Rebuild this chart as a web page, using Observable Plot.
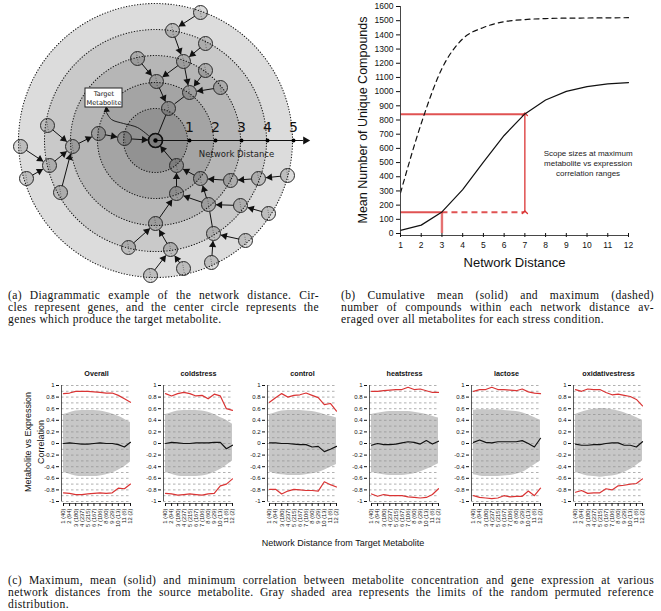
<!DOCTYPE html>
<html>
<head>
<meta charset="utf-8">
<script src="https://cdn.jsdelivr.net/npm/d3@7"></script>
<script src="https://cdn.jsdelivr.net/npm/@observablehq/plot@0.6"></script>
<style>
  body { margin: 0; background: #fff; }
  #root { position: relative; width: 661px; height: 611px; overflow: hidden; font-family: "Liberation Sans", Arial, sans-serif; color: #111; }
  .cap { position: absolute; font-family: "Liberation Serif", "DejaVu Serif", serif; font-size: 11.6px; letter-spacing: 0.35px; line-height: 12px; color: #111; }
  .cap div { text-align: justify; text-align-last: justify; }
  .cap div.last { text-align-last: left; }
  .lbl { position: absolute; font-family: "Liberation Sans", Arial, sans-serif; color: #111; text-align: center; }
</style>
</head>
<body>
<div id="root"></div>
<script>
// ---------------- Panel (a): network distance diagram ----------------
const ringRadii = [137, 111, 85, 58, 32];
const ringFills = ["#dcdcdc", "#c9c9c9", "#b6b6b6", "#a4a4a4", "#929292"];
const distanceTicks = [34, 60, 86, 112, 138];
const distanceTickLabels = ["1", "2", "3", "4", "5"];
const nodeNames = ["T0","A","B","C","D","E","F","G","H","I","J","K","L","M","N","O","P","Q","R","S","T","U","V","W","X","Y","Z","AA","AB","AC","AD","AE","AF","AG","AH","AI"];
const nodeX = [0, 13, 1, 34, 28, 17, 45, -18, 50, 50, 65, -31, -57, -83, -106, -135, -129, -108, -95, 21, 21, 0, -27, 15, -5, 28, 45, 75, 103, 132, 53, 85, 113, 58, 90, 56];
const nodeY = [0, -32, -59, -48, -79, -110, -128, -82, -97, -70, -53, -2, -7, 6, 25, 6, 38, -15, 52, 25, 53, 83, 107, 109, 135, 128, 38, 40, 38, 35, 64, 65, 73, 93, 100, 122];
const edgeFrom = ["A","B","G","D","D","E","F","H","I","J","C","K","L","M","Q","N","O","P","R","S","T","U","V","W","X","Y","Z","AA","AB","AC","AD","AD","AE","AF","AG","AH","AI"];
const edgeTo   = ["T0","A","B","B","C","D","E","D","C","C","A","T0","K","L","M","M","N","N","M","T0","S","T","U","U","W","W","S","Z","AA","AB","T","Z","AD","AE","AD","AG","AG"];
const edgeHead = [false,true,true,true,true,true,true,true,true,true,false,true,true,true,true,true,true,true,true,true,true,true,true,true,true,true,true,true,true,true,true,true,true,true,false,true,true];
const labelBox = [{x1: -70, x2: -33, y1: -52, y2: -33}];
const labelText = "Target\nMetabolite";
const connectorX = [-49, -44, -32, -18, -6];
const connectorY = [-28, -21, -17, -13, -4];

// ---------------- Panel (b): scope sizes ----------------
const networkDistance = [1, 2, 3, 4, 5, 6, 7, 8, 9, 10, 11, 12];
const meanCompounds = [22, 59, 152, 309, 503, 691, 843, 941, 1002, 1035, 1054, 1064];
const maxCompounds = [286, 775, 1163, 1372, 1452, 1493, 1508, 1515, 1518, 1519, 1520, 1521];
const compoundTicks = [0, 100, 200, 300, 400, 500, 600, 700, 800, 900, 1000, 1100, 1200, 1300, 1400, 1500, 1600];
const scopeDistance = [3, 7];
const scopeSize = [150, 840];
const scopeNote = "Scope sizes at maximum\nmetabolite vs expression\ncorrelation ranges";

// ---------------- Panel (c): correlation by distance ----------------
const distanceLabels = ["1 (40)", "2 (94)", "3 (180)", "4 (237)", "5 (215)", "6 (167)", "7 (106)", "8 (60)", "9 (29)", "10 (13)", "11 (6)", "12 (2)"];
const corrTicks = [-1, -0.8, -0.6, -0.4, -0.2, 0, 0.2, 0.4, 0.6, 0.8, 1];
const corrGrid = [-1, -0.9, -0.8, -0.7, -0.6, -0.5, -0.4, -0.3, -0.2, -0.1, 0, 0.1, 0.2, 0.3, 0.4, 0.5, 0.6, 0.7, 0.8, 0.9, 1];
const conditions = ["Overall", "coldstress", "control", "heatstress", "lactose", "oxidativestress"];

const overallMax  = [0.86, 0.87, 0.90, 0.90, 0.90, 0.89, 0.88, 0.87, 0.87, 0.83, 0.77, 0.71];
const overallMean = [0.00, 0.01, 0.00, -0.01, -0.01, 0.00, 0.01, 0.00, 0.00, -0.02, -0.06, 0.02];
const overallMin  = [-0.85, -0.86, -0.88, -0.88, -0.87, -0.86, -0.85, -0.86, -0.85, -0.77, -0.78, -0.70];
const overallHi   = [0.50, 0.53, 0.56, 0.57, 0.57, 0.57, 0.56, 0.54, 0.51, 0.47, 0.42, 0.36];
const overallLo   = [-0.50, -0.53, -0.56, -0.57, -0.57, -0.57, -0.56, -0.54, -0.51, -0.46, -0.40, -0.32];

const coldMax  = [0.86, 0.82, 0.86, 0.88, 0.86, 0.82, 0.83, 0.77, 0.85, 0.82, 0.60, 0.57];
const coldMean = [0.00, 0.02, 0.01, 0.00, 0.00, 0.01, 0.01, 0.01, 0.02, 0.02, -0.09, -0.03];
const coldMin  = [-0.86, -0.87, -0.89, -0.88, -0.87, -0.88, -0.89, -0.87, -0.86, -0.73, -0.70, -0.61];
const coldHi   = [0.50, 0.53, 0.56, 0.57, 0.57, 0.57, 0.56, 0.54, 0.50, 0.45, 0.40, 0.33];
const coldLo   = [-0.50, -0.53, -0.56, -0.57, -0.57, -0.57, -0.56, -0.54, -0.50, -0.45, -0.38, -0.30];

const controlMax  = [0.71, 0.79, 0.86, 0.80, 0.83, 0.84, 0.87, 0.83, 0.79, 0.67, 0.69, 0.56];
const controlMean = [0.01, 0.01, 0.00, 0.00, -0.01, -0.02, -0.02, -0.06, -0.05, -0.14, -0.10, -0.05];
const controlMin  = [-0.79, -0.79, -0.87, -0.82, -0.79, -0.80, -0.81, -0.81, -0.82, -0.66, -0.71, -0.75];
const controlHi   = [0.50, 0.53, 0.56, 0.57, 0.57, 0.57, 0.56, 0.55, 0.53, 0.50, 0.47, 0.44];
const controlLo   = [-0.49, -0.52, -0.54, -0.55, -0.55, -0.55, -0.54, -0.52, -0.50, -0.46, -0.41, -0.36];

const heatMax  = [0.90, 0.90, 0.91, 0.92, 0.93, 0.93, 0.97, 0.93, 0.94, 0.91, 0.88, 0.88];
const heatMean = [-0.03, 0.00, -0.02, -0.02, -0.01, 0.01, 0.03, 0.02, -0.01, 0.05, -0.01, 0.04];
const heatMin  = [-0.87, -0.91, -0.88, -0.90, -0.90, -0.90, -0.92, -0.93, -0.94, -0.93, -0.88, -0.78];
const heatHi   = [0.50, 0.52, 0.54, 0.55, 0.55, 0.55, 0.55, 0.54, 0.52, 0.50, 0.47, 0.44];
const heatLo   = [-0.50, -0.52, -0.54, -0.55, -0.55, -0.55, -0.54, -0.52, -0.49, -0.45, -0.40, -0.35];

const lactoseMax  = [0.90, 0.93, 0.93, 0.97, 0.93, 0.93, 0.92, 0.91, 0.94, 0.89, 0.87, 0.86];
const lactoseMean = [0.02, 0.06, 0.02, 0.01, 0.03, 0.03, 0.03, 0.03, 0.05, 0.00, -0.06, 0.09];
const lactoseMin  = [-0.90, -0.93, -0.94, -0.95, -0.94, -0.90, -0.92, -0.91, -0.91, -0.82, -0.90, -0.77];
const lactoseHi   = [0.57, 0.58, 0.58, 0.58, 0.58, 0.57, 0.56, 0.55, 0.53, 0.49, 0.45, 0.40];
const lactoseLo   = [-0.54, -0.56, -0.57, -0.57, -0.57, -0.56, -0.55, -0.53, -0.50, -0.44, -0.37, -0.30];

const oxidMax  = [0.93, 0.90, 0.94, 0.93, 0.93, 0.88, 0.84, 0.85, 0.83, 0.81, 0.76, 0.65];
const oxidMean = [-0.01, -0.03, -0.03, -0.02, -0.02, 0.00, 0.01, 0.01, -0.03, -0.03, -0.06, 0.03];
const oxidMin  = [-0.84, -0.81, -0.86, -0.85, -0.85, -0.78, -0.80, -0.73, -0.72, -0.70, -0.69, -0.61];
const oxidHi   = [0.50, 0.54, 0.57, 0.59, 0.60, 0.60, 0.58, 0.56, 0.53, 0.49, 0.45, 0.40];
const oxidLo   = [-0.50, -0.53, -0.56, -0.57, -0.58, -0.57, -0.56, -0.54, -0.50, -0.45, -0.38, -0.30];

const panelsC = [
  {max: overallMax, mean: overallMean, min: overallMin, hi: overallHi, lo: overallLo},
  {max: coldMax, mean: coldMean, min: coldMin, hi: coldHi, lo: coldLo},
  {max: controlMax, mean: controlMean, min: controlMin, hi: controlHi, lo: controlLo},
  {max: heatMax, mean: heatMean, min: heatMin, hi: heatHi, lo: heatLo},
  {max: lactoseMax, mean: lactoseMean, min: lactoseMin, hi: lactoseHi, lo: lactoseLo},
  {max: oxidMax, mean: oxidMean, min: oxidMin, hi: oxidHi, lo: oxidLo}
];

// ---------------- layout helpers ----------------
const root = document.getElementById("root");
function place(node, left, top) {
  node.style.position = "absolute";
  node.style.left = left + "px";
  node.style.top = top + "px";
  root.appendChild(node);
  return node;
}
function html(cls, left, top, width, inner, extra) {
  const d = document.createElement("div");
  d.className = cls;
  d.style.left = left + "px";
  d.style.top = top + "px";
  d.style.width = width + "px";
  if (extra) Object.assign(d.style, extra);
  d.innerHTML = inner;
  root.appendChild(d);
  return d;
}
const RED = "#da3434";

// ---------------- build panel (a) ----------------
const nodes = nodeNames.map((name, i) => ({name, x: nodeX[i], y: nodeY[i]}));
const byName = Object.fromEntries(nodes.map(d => [d.name, d]));
const edges = edgeFrom.map((f, i) => {
  const a = byName[f], b = byName[edgeTo[i]];
  const dx = b.x - a.x, dy = b.y - a.y, L = Math.hypot(dx, dy);
  return {x1: a.x, y1: a.y, x2: b.x, y2: b.y, head: edgeHead[i],
          hx: b.x - dx / L * 11.5, hy: b.y - dy / L * 11.5,
          angle: Math.atan2(dy, dx) * 180 / Math.PI + 90};
});
const connector = connectorX.map((x, i) => ({x, y: connectorY[i]}));

const plotA = Plot.plot({
  width: 320, height: 285, margin: 0,
  x: {domain: [-155, 165], range: [0, 320], axis: null},
  y: {domain: [-140, 145], range: [0, 285], axis: null},
  style: {background: "transparent", fontFamily: "DejaVu Sans, sans-serif", color: "#111"},
  marks: [
    ...ringRadii.map((r, i) => Plot.dot([r], {x: () => 0, y: () => 0, r, fill: ringFills[i], stroke: "#1a1a1a", strokeWidth: 1.1, strokeDasharray: "0.4,2.4", strokeLinecap: "round"})),
    Plot.arrow(edges, {x1: "x1", y1: "y1", x2: "x2", y2: "y2", headLength: 0, insetStart: 7, insetEnd: 8, stroke: "#111", strokeWidth: 1}),
    Plot.dot(edges.filter(d => d.head), {x: "hx", y: "hy", symbol: "triangle", r: 2.7, rotate: "angle", fill: "#111", stroke: "none"}),
    Plot.line(connector, {x: "x", y: "y", curve: "catmull-rom", stroke: "#111", strokeWidth: 0.9}),
    Plot.dot([labelBox[0]], {x: () => -49, y: () => -30.5, symbol: "triangle", r: 2.4, rotate: -8, fill: "#111", stroke: "none"}),
    Plot.arrow([0], {x1: () => 0, y1: () => 0, x2: () => 147, y2: () => 0, headLength: 0, stroke: "#111", strokeWidth: 1.1}),
    Plot.dot([0], {x: () => 150, y: () => 0, symbol: "triangle", r: 3, rotate: 90, fill: "#111", stroke: "none"}),
    Plot.dot(nodes, {x: "x", y: "y", r: 7, fill: "#000", fillOpacity: 0.14, stroke: "#2a2a2a", strokeWidth: 1}),
    Plot.link(nodes.slice(1), {x1: d => d.x - 1, y1: d => d.y - 6, x2: d => d.x + 1, y2: d => d.y + 6, stroke: "#222", strokeWidth: 0.8, strokeDasharray: "0.6,1.8"}),
    Plot.dot([0], {x: () => 0, y: () => 0, r: 7, fill: "none", stroke: "#111", strokeWidth: 1.6}),
    Plot.dot([0], {x: () => 0, y: () => 0, r: 2.2, fill: "#000"}),
    Plot.dot(distanceTicks, {x: d => d, y: () => 0, r: 2, fill: "#000"}),
    Plot.text(distanceTicks, {x: d => d, y: () => -13, text: (d, i) => distanceTickLabels[i], fontSize: 14, fill: "#111"}),
    Plot.text(["Network Distance"], {x: () => 81, y: () => 14, fontSize: 8.5, fill: "#222"}),
    Plot.rect(labelBox, {x1: "x1", x2: "x2", y1: "y1", y2: "y2", fill: "#fff", stroke: "#222", strokeWidth: 1}),
    Plot.text([labelText], {x: () => -51.5, y: () => -42.5, fontSize: 6.6, lineHeight: 1.3, fill: "#111"})
  ]
});
place(plotA, 0, 0);

// ---------------- build panel (b) ----------------
const plotB = Plot.plot({
  width: 331, height: 280, marginLeft: 70, marginRight: 33, marginTop: 6, marginBottom: 47,
  x: {domain: [1, 12]},
  y: {domain: [0, 1600]},
  style: {background: "transparent", fontFamily: "Liberation Sans, Arial, sans-serif", color: "#111"},
  marks: [
    Plot.ruleY([scopeSize[1]], {x1: () => 1, x2: () => scopeDistance[1], stroke: RED, strokeWidth: 2, strokeOpacity: 0.85}),
    Plot.ruleY([scopeSize[0]], {x1: () => 1, x2: () => scopeDistance[0], stroke: RED, strokeWidth: 2, strokeOpacity: 0.85}),
    Plot.ruleY([scopeSize[0]], {x1: () => scopeDistance[0], x2: () => scopeDistance[1], stroke: RED, strokeWidth: 2, strokeOpacity: 0.85, strokeDasharray: "6,4"}),
    Plot.ruleX([scopeDistance[0]], {y1: () => 0, y2: () => scopeSize[0], stroke: RED, strokeWidth: 2.4, strokeOpacity: 0.7}),
    Plot.link([0], {x1: () => scopeDistance[1], x2: () => scopeDistance[1], y1: () => scopeSize[0], y2: () => scopeSize[1], markerStart: "arrow", markerEnd: "arrow", stroke: RED, strokeWidth: 1.3}),
    Plot.line(networkDistance, {x: d => d, y: (d, i) => maxCompounds[i], curve: "monotone-x", stroke: "#111", strokeWidth: 1.2, strokeDasharray: "5,4"}),
    Plot.line(networkDistance, {x: d => d, y: (d, i) => meanCompounds[i], stroke: "#111", strokeWidth: 1.2}),
    Plot.ruleX([1], {y1: () => 0, y2: () => 1600, stroke: "#333", strokeWidth: 0.9}),
    Plot.ruleY([0], {x1: () => 1, x2: () => 12, dy: 2, stroke: "#333", strokeWidth: 0.9}),
    Plot.axisY(compoundTicks, {tickSize: 4, tickPadding: 3, fontSize: 8.5, label: null, tickFormat: d => String(d)}),
    Plot.axisX(networkDistance, {tickSize: 4, tickPadding: 4, fontSize: 8.5, label: null, tickFormat: d => String(d)}),
    Plot.text(["Mean Number of Unique Compounds"], {frameAnchor: "left", dx: -38, rotate: -90, textAnchor: "middle", fontSize: 12.5, fill: "#111"}),
    Plot.text(["Network Distance"], {frameAnchor: "bottom", dy: 33, fontSize: 13, fill: "#111"}),
    Plot.text([scopeNote], {x: () => 10.05, y: () => 495, fontSize: 8, lineHeight: 1.25, fill: "#222"})
  ]
});
place(plotB, 330, 0);

// ---------------- build panel (c) ----------------
const axisLeft = [61, 163, 267, 369, 471, 573];
panelsC.forEach((p, k) => {
  const rows = networkDistance.map((d, i) => ({d, hi: p.hi[i], lo: p.lo[i], max: p.max[i], mean: p.mean[i], min: p.min[i]}));
  const svg = Plot.plot({
    width: 104, height: 175, marginLeft: 32, marginRight: 2, marginTop: 25, marginBottom: 34,
    x: {domain: [1, 12], range: [34, 101]},
    y: {domain: [-1, 1], range: [141, 25]},
    style: {background: "transparent", fontFamily: "Liberation Sans, Arial, sans-serif", color: "#111", overflow: "visible"},
    marks: [
      Plot.areaY(rows, {x: "d", y1: "lo", y2: "hi", fill: "#c7c7c7", curve: "natural"}),
      Plot.ruleY(corrGrid, {stroke: "#8f8f8f", strokeWidth: 0.7, strokeDasharray: "2.5,2.5"}),
      Plot.lineY(rows, {x: "d", y: "max", stroke: RED, strokeWidth: 1.2}),
      Plot.lineY(rows, {x: "d", y: "min", stroke: RED, strokeWidth: 1.2}),
      Plot.lineY(rows, {x: "d", y: "mean", stroke: "#111", strokeWidth: 1.2}),
      Plot.ruleX([1], {dx: -2, y1: () => -1, y2: () => 1, stroke: "#333", strokeWidth: 0.8}),
      Plot.ruleY([-1], {x1: () => 1, x2: () => 12, dy: 2, stroke: "#333", strokeWidth: 0.8}),
      Plot.axisY(corrTicks, {tickSize: 3, tickPadding: 2, fontSize: 6, label: null, tickFormat: d => String(d), dx: -2}),
      Plot.axisX(networkDistance, {tickSize: 3, tickPadding: 2, fontSize: 5.8, label: null, tickRotate: -90, tickFormat: d => distanceLabels[d - 1], dy: 2}),
      Plot.text([conditions[k]], {frameAnchor: "top", dy: -15, fontWeight: "bold", fontSize: 7.2, fill: "#111"})
    ]
  });
  place(svg, axisLeft[k] - 32, 360);
});

// shared labels for panel (c)
html("lbl", -65, 429, 200, "Metabolite vs Expression<br>Correlation",
  {fontSize: "9px", lineHeight: "13px", height: "26px", transform: "rotate(-90deg)"});
html("lbl", 223, 537, 240, "Network Distance from Target Metabolite", {fontSize: "9px", lineHeight: "12px"});

// ---------------- captions ----------------
html("cap", 8, 290, 311,
  "<div>(a) Diagrammatic example of the network distance. Cir-</div>" +
  "<div>cles represent genes, and the center circle represents the</div>" +
  "<div class='last'>genes which produce the target metabolite.</div>");
html("cap", 341, 290, 313,
  "<div>(b) Cumulative mean (solid) and maximum (dashed)</div>" +
  "<div>number of compounds within each network distance av-</div>" +
  "<div class='last'>eraged over all metabolites for each stress condition.</div>");
html("cap", 8, 575, 646,
  "<div>(c) Maximum, mean (solid) and minimum correlation between metabolite concentration and gene expression at various</div>" +
  "<div>network distances from the source metabolite. Gray shaded area represents the limits of the random permuted reference</div>" +
  "<div class='last'>distribution.</div>");
</script>
</body>
</html>
